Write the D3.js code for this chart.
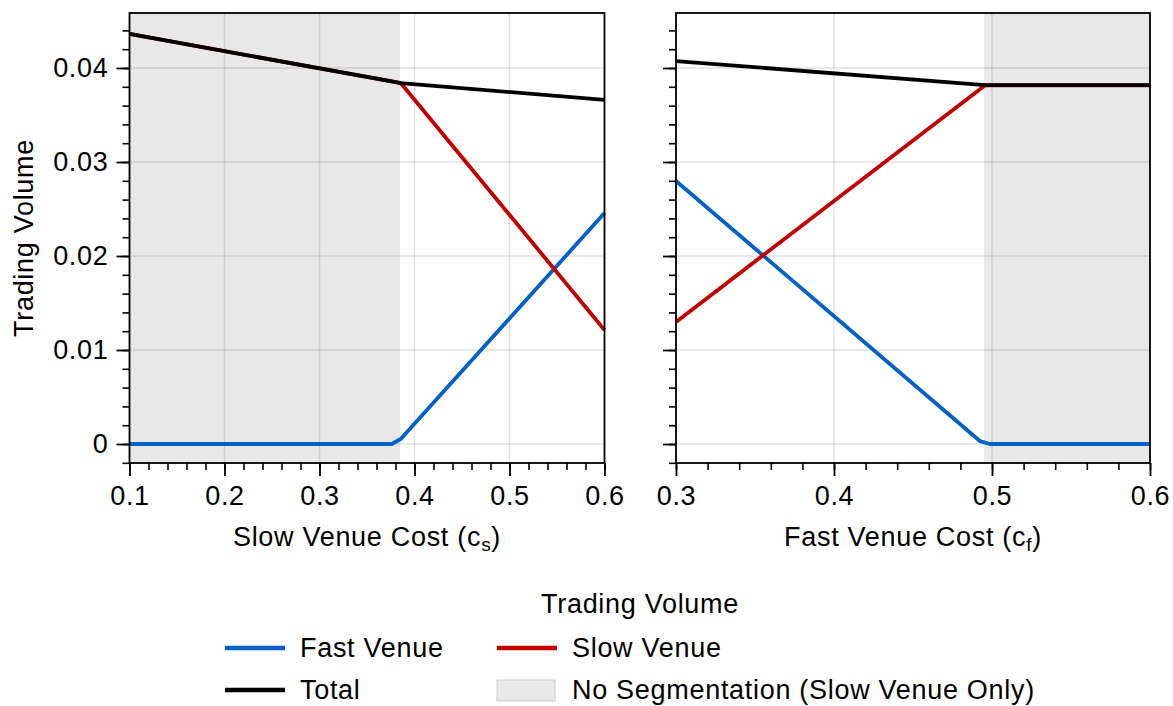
<!DOCTYPE html>
<html><head><meta charset="utf-8">
<script src="https://cdn.jsdelivr.net/npm/d3@7"></script>
<style>body{margin:0;background:#fff}svg{display:block;font-family:"Liberation Sans",Arial,sans-serif}
text{letter-spacing:0.7px}</style>
</head><body><svg id="c" width="1173" height="706"></svg>
<script>
// ---- data ----
const leftX    = [0.1, 0.376, 0.3855, 0.6];
const leftFast = [0, 0, 0.00053, 0.02457];
const leftSlow = [0.04362, 0.03857, 0.03840, 0.01213];
const leftTotal= [0.04362, 0.03857, 0.03840, 0.03660];
const rightX    = [0.3, 0.4925, 0.4985, 0.6];
const rightFast = [0.02798, 0.00030, 0, 0];
const rightSlowX = [0.3, 0.4955, 0.6];
const rightSlow  = [0.01298, 0.03815, 0.03815];
const rightTotal = [0.04074, 0.03818, 0.03818];
const leftShade  = [0.1, 0.3847];
const rightShade = [0.4950, 0.6];
const yTicks = [0, 0.01, 0.02, 0.03, 0.04];
const yTickLabels = ["0", "0.01", "0.02", "0.03", "0.04"];
const leftXTicks = [0.1, 0.2, 0.3, 0.4, 0.5, 0.6];
const rightXTicks = [0.3, 0.4, 0.5, 0.6];
const seriesNames = ["Fast Venue", "Slow Venue", "Total", "No Segmentation (Slow Venue Only)"];
const colors = {fast: "#0062c6", slow: "#c20000", total: "#000000"};

const FS = 27;
const svg = d3.select("#c");
const plotTop = 13, plotBottom = 463;
const y = d3.scaleLinear().domain([-0.00202, 0.04585]).range([plotBottom, plotTop]);

function panel(x0, x1, domain, xTicks, xlabel, sub, showYLabels, shade, series) {
  const x = d3.scaleLinear().domain(domain).range([x0, x1]);
  const g = svg.append("g");
  g.append("rect").attr("x", x(shade[0])).attr("y", plotTop)
    .attr("width", x(shade[1]) - x(shade[0])).attr("height", plotBottom - plotTop)
    .attr("fill", "#e8e8e8");
  g.selectAll(".gx").data(xTicks).enter().append("line")
    .attr("x1", d => x(d)).attr("x2", d => x(d)).attr("y1", plotTop).attr("y2", plotBottom)
    .attr("stroke", "rgba(0,0,0,0.12)").attr("stroke-width", 1.4);
  g.selectAll(".gy").data(yTicks).enter().append("line")
    .attr("y1", d => y(d)).attr("y2", d => y(d)).attr("x1", x0).attr("x2", x1)
    .attr("stroke", "rgba(0,0,0,0.12)").attr("stroke-width", 1.4);
  series.forEach(s => {
    const line = d3.line().x((d, i) => x(s.xs[i])).y(d => y(d));
    g.append("path").datum(s.ys).attr("d", line).attr("fill", "none")
      .attr("stroke", s.color).attr("stroke-width", 3.8).attr("stroke-linejoin", "round");
  });
  g.append("rect").attr("x", x0).attr("y", plotTop).attr("width", x1 - x0).attr("height", plotBottom - plotTop)
    .attr("fill", "none").attr("stroke", "#000").attr("stroke-width", 1.8);
  const step = 0.02;
  const minors = d3.range(Math.round(domain[0] / step), Math.round(domain[1] / step) + 1).map(k => k * step);
  const ax = g.append("g").attr("transform", `translate(0,${plotBottom})`)
    .call(d3.axisBottom(x).tickValues(minors).tickSize(7).tickFormat(""));
  ax.select(".domain").remove();
  ax.selectAll("line").attr("stroke-width", 1.6);
  const axM = g.append("g").attr("transform", `translate(0,${plotBottom})`)
    .call(d3.axisBottom(x).tickValues(xTicks).tickSize(13).tickPadding(10).tickFormat(d3.format(".1f")));
  axM.select(".domain").remove();
  axM.selectAll("line").attr("stroke-width", 1.8);
  axM.selectAll("text").attr("font-size", FS).attr("font-family", "Liberation Sans, Arial, sans-serif").attr("fill", "#000");
  const yMinors = d3.range(-1, 23).map(k => k * 0.002);
  const ay = g.append("g").attr("transform", `translate(${x0},0)`)
    .call(d3.axisLeft(y).tickValues(yMinors).tickSize(7).tickFormat(""));
  ay.select(".domain").remove();
  ay.selectAll("line").attr("stroke-width", 1.6);
  const ayM = g.append("g").attr("transform", `translate(${x0},0)`)
    .call(d3.axisLeft(y).tickValues(yTicks).tickSize(13).tickPadding(8)
      .tickFormat((d, i) => showYLabels ? yTickLabels[i] : ""));
  ayM.select(".domain").remove();
  ayM.selectAll("line").attr("stroke-width", 1.8);
  ayM.selectAll("text").attr("font-size", FS).attr("font-family", "Liberation Sans, Arial, sans-serif").attr("fill", "#000");
  const t = g.append("text").attr("x", (x0 + x1) / 2).attr("y", 546).attr("text-anchor", "middle")
    .attr("font-size", FS);
  t.append("tspan").text(xlabel + " (c");
  t.append("tspan").attr("font-size", 19).attr("dy", 5).text(sub);
  t.append("tspan").attr("dy", -5).text(")");
}

panel(129.5, 604.5, [0.1, 0.6], leftXTicks, "Slow Venue Cost", "s", true, leftShade, [
  {xs: leftX, ys: leftFast, color: colors.fast},
  {xs: leftX, ys: leftSlow, color: colors.slow},
  {xs: leftX, ys: leftTotal, color: colors.total}
]);
panel(676, 1150, [0.3, 0.6], rightXTicks, "Fast Venue Cost", "f", false, rightShade, [
  {xs: rightX, ys: rightFast, color: colors.fast},
  {xs: rightSlowX, ys: rightSlow, color: colors.slow},
  {xs: rightSlowX, ys: rightTotal, color: colors.total}
]);

svg.append("text").attr("transform", `translate(33,${(plotTop + plotBottom) / 2}) rotate(-90)`)
  .attr("text-anchor", "middle").attr("font-size", FS).text("Trading Volume");

const lg = svg.append("g");
lg.append("text").attr("x", 640).attr("y", 613).attr("text-anchor", "middle").attr("font-size", FS).text("Trading Volume");
const items = [
  {name: seriesNames[0], type: "line", color: colors.fast, x: 225, y: 648},
  {name: seriesNames[1], type: "line", color: colors.slow, x: 497, y: 648},
  {name: seriesNames[2], type: "line", color: colors.total, x: 225, y: 690},
  {name: seriesNames[3], type: "patch", x: 497, y: 690}
];
items.forEach(it => {
  if (it.type === "line") {
    lg.append("line").attr("x1", it.x).attr("x2", it.x + 60).attr("y1", it.y).attr("y2", it.y)
      .attr("stroke", it.color).attr("stroke-width", 4.5);
  } else {
    lg.append("rect").attr("x", it.x).attr("y", it.y - 10).attr("width", 58).attr("height", 21)
      .attr("fill", "#e8e8e8").attr("stroke", "#cccccc").attr("stroke-width", 1);
  }
  lg.append("text").attr("x", it.x + 75).attr("y", it.y + 9).attr("font-size", FS).text(it.name);
});
</script></body></html>
